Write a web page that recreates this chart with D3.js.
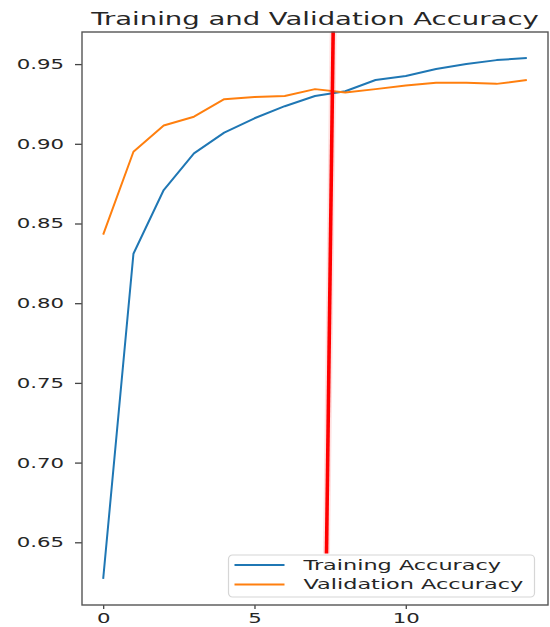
<!DOCTYPE html>
<html>
<head>
<meta charset="utf-8">
<script src="https://cdn.jsdelivr.net/npm/d3@7"></script>
<style>
  html, body { margin: 0; padding: 0; background: #fff; }
  svg { display: block; }
  text { font-family: "DejaVu Sans", sans-serif; fill: #262626; }
</style>
</head>
<body>
<svg id="chart" width="550" height="627"></svg>
<script>
// Epochs and per-epoch accuracies
const epochs = [0, 1, 2, 3, 4, 5, 6, 7, 8, 9, 10, 11, 12, 13, 14];
const trainingAccuracy = [0.627, 0.831, 0.871, 0.894, 0.907, 0.916, 0.9236, 0.930, 0.933, 0.940, 0.9425, 0.9469, 0.950, 0.9525, 0.9538];
const validationAccuracy = [0.843, 0.895, 0.9115, 0.917, 0.928, 0.9293, 0.930, 0.9343, 0.9322, 0.9343, 0.9366, 0.9383, 0.9383, 0.9376, 0.940];
const seriesNames = ["Training Accuracy", "Validation Accuracy"];
const xTicks = [0, 5, 10];
const yTicks = [0.65, 0.70, 0.75, 0.80, 0.85, 0.90, 0.95];
// Marker line drawn across the plot (epoch, accuracy) at its two ends
const markerEpochs = [7.6, 7.38];
const markerAccuracy = [0.9704, 0.643];

const svg = d3.select("#chart");
const plot = { left: 82, right: 548, top: 32, bottom: 605 };
// horizontal stretch of the lettering
const SX_TICK = 1.52, SX_TITLE = 1.58, SX_LEGEND = 1.6;

const colors = ["#1f77b4", "#ff7f0e"];

// 5% margins around data, as in the default autoscale
const allY = trainingAccuracy.concat(validationAccuracy);
const yMin = d3.min(allY), yMax = d3.max(allY), yPad = (yMax - yMin) * 0.05;
const xMin = d3.min(epochs), xMax = d3.max(epochs), xPad = (xMax - xMin) * 0.05;

const x = d3.scaleLinear().domain([xMin - xPad, xMax + xPad]).range([plot.left, plot.right]);
const y = d3.scaleLinear().domain([yMin - yPad, yMax + yPad]).range([plot.bottom, plot.top]);

function stretchText(sel) {
  sel.each(function () {
    const t = d3.select(this);
    const tx = +t.attr("x") || 0;
    t.attr("x", 0).attr("transform", `translate(${tx},0) scale(${SX_TICK},1)`);
  });
}

// Series lines
const line = d3.line().x((d, i) => x(epochs[i])).y(d => y(d));
[trainingAccuracy, validationAccuracy].forEach((s, k) => {
  svg.append("path")
    .attr("d", line(s))
    .attr("fill", "none")
    .attr("stroke", colors[k])
    .attr("stroke-width", 2)
    .attr("stroke-linejoin", "round")
    .attr("stroke-linecap", "butt");
});

// Red vertical marker with a soft halo
const mk = d3.range(2).map(i => [x(markerEpochs[i]), y(markerAccuracy[i])]);
svg.append("line")
  .attr("x1", mk[0][0]).attr("y1", mk[0][1]).attr("x2", mk[1][0]).attr("y2", mk[1][1])
  .attr("stroke", "#ff0000").attr("stroke-opacity", 0.12).attr("stroke-width", 7);
svg.append("line")
  .attr("x1", mk[0][0]).attr("y1", mk[0][1]).attr("x2", mk[1][0]).attr("y2", mk[1][1])
  .attr("stroke", "#ff0000").attr("stroke-width", 3.6);

// Axes
const yAxis = svg.append("g")
  .attr("transform", `translate(${plot.left},0)`)
  .call(d3.axisLeft(y).tickValues(yTicks).tickFormat(d3.format(".2f")).tickSize(7).tickPadding(11));
const xAxis = svg.append("g")
  .attr("transform", `translate(0,${plot.bottom})`)
  .call(d3.axisBottom(x).tickValues(xTicks).tickFormat(d3.format("d")).tickSize(4).tickPadding(4));

[yAxis, xAxis].forEach(g => {
  g.select(".domain").remove();
  g.selectAll(".tick line").attr("stroke", "#444").attr("stroke-width", 1.3);
  g.selectAll(".tick text")
    .attr("font-size", 14)
    .attr("fill", "#262626")
    .style("font-family", "DejaVu Sans, sans-serif");
});
yAxis.selectAll(".tick text").call(stretchText);
xAxis.selectAll(".tick text").attr("transform", `scale(${SX_TICK},1)`);

// Frame
svg.append("rect")
  .attr("x", plot.left).attr("y", plot.top)
  .attr("width", plot.right - plot.left).attr("height", plot.bottom - plot.top)
  .attr("fill", "none").attr("stroke", "#555").attr("stroke-width", 1.4);

// Title
svg.append("text")
  .attr("text-anchor", "middle")
  .attr("font-size", 17.4)
  .attr("transform", `translate(${(plot.left + plot.right) / 2},25) scale(${SX_TITLE},1)`)
  .text("Training and Validation Accuracy");

// Legend
const legend = svg.append("g").attr("transform", "translate(228.5,555)");
legend.append("rect")
  .attr("width", 306).attr("height", 42).attr("rx", 4)
  .attr("fill", "#fff").attr("fill-opacity", 0.8)
  .attr("stroke", "#d6d6d6").attr("stroke-width", 1.2);
seriesNames.forEach((name, k) => {
  const row = legend.append("g").attr("transform", `translate(0,${10 + k * 19.5})`);
  row.append("line")
    .attr("x1", 6).attr("x2", 56).attr("y1", 0).attr("y2", 0)
    .attr("stroke", colors[k]).attr("stroke-width", 2);
  row.append("text")
    .attr("font-size", 14)
    .attr("dy", "0.35em")
    .attr("transform", `translate(75,0) scale(${SX_LEGEND},1)`)
    .text(name);
});
</script>
</body>
</html>
